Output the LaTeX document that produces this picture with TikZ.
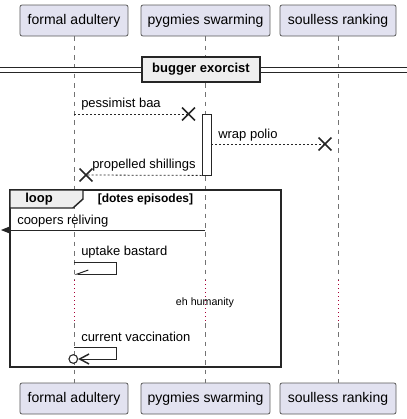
\documentclass[tikz,border=0pt]{standalone}
\usepackage{fontspec}
\setmainfont{Liberation Sans}
\usepackage{tikz}
\usetikzlibrary{arrows.meta}
\usetikzlibrary{shapes.misc}
\usetikzlibrary{positioning}
\definecolor{partfill}{HTML}{E2E2F0}
\definecolor{tabfill}{HTML}{EEEEEE}
\definecolor{delayred}{HTML}{A80036}
\newcommand{\partfont}{\fontsize{10.5}{12}\selectfont}
\newcommand{\msgfont}{\fontsize{9.75}{11}\selectfont}
\tikzset{>=latex}
\tikzstyle{part} = [rectangle, draw=black!65, line width=0.6pt, fill=partfill, rounded corners=1.5pt, minimum height=23.25pt, inner sep=0, font=\partfont]
\tikzstyle{life} = [draw=black!55, line width=0.5pt, dash pattern=on 3.5pt off 3.5pt]
\tikzstyle{dly} = [draw=delayred, line width=0.6pt, dash pattern=on 0.75pt off 2.25pt]
\tikzstyle{rmsg} = [draw=black!85, line width=0.6pt, dash pattern=on 1.5pt off 1.5pt]
\tikzstyle{smsg} = [draw=black!85, line width=0.75pt]
\tikzstyle{xmark} = [cross out, draw=black!85, line width=1.2pt, inner sep=0, minimum size=8.5pt]
\tikzstyle{lbl} = [draw=none, inner sep=0, anchor=west, font=\msgfont]
\tikzstyle{frame} = [draw=black!85, line width=1.1pt]

\begin{document}
\begin{tikzpicture}[x=0.75pt, y=-0.75pt]
\useasboundingbox (0,0) rectangle (407,419);
% participants, top and bottom
\node [part, minimum width=81pt] (FA) at (74,20.5) {formal adultery};
\node [part, minimum width=96.75pt] (PS) at (205.5,20.5) {pygmies swarming};
\node [part, minimum width=87pt] (SR) at (338,20.5) {soulless ranking};
\node [part, minimum width=81pt] (FAb) at (74,398.5) {formal adultery};
\node [part, minimum width=96.75pt] (PSb) at (205.5,398.5) {pygmies swarming};
\node [part, minimum width=87pt] (SRb) at (338,398.5) {soulless ranking};
% lifelines, dotted during the delay
\coordinate (FAd) at (74,280); \coordinate (FAe) at (74,323);
\coordinate (PSd) at (205.5,280); \coordinate (PSe) at (205.5,323);
\coordinate (SRd) at (338,280); \coordinate (SRe) at (338,323);
\draw [life] (FA) -- (FAd); \draw [dly] (FAd) -- (FAe); \draw [life] (FAe) -- (FAb);
\draw [life] (PS) -- (PSd); \draw [dly] (PSd) -- (PSe); \draw [life] (PSe) -- (PSb);
\draw [life] (SR) -- (SRd); \draw [dly] (SRd) -- (SRe); \draw [life] (SRe) -- (SRb);
% divider
\coordinate (divL) at (0,70); \coordinate (divR) at (407,70);
\draw [draw=black!85, line width=0.8pt, double=white, double distance=2.6pt] (divL) -- (divR);
\node [rectangle, frame, fill=tabfill, minimum width=88.5pt, minimum height=18.75pt, inner sep=0, font=\bfseries\msgfont] (BE) at (201,69.5) {bugger exorcist};
% activation
\node [rectangle, draw=black!85, line width=0.6pt, fill=white, inner sep=0, minimum width=6.75pt, minimum height=45.75pt] (ACT) at (206.5,144.5) {};
% messages
\coordinate (m1s) at (74,114);
\node [xmark] (m1x) at (188.5,114) {};
\draw [rmsg] (m1s) -- (m1x.center);
\node [lbl] (m1l) at (81,104) {pessimist baa};
\node [xmark] (m2x) at (325,144) {};
\draw [rmsg] (ACT.east |- m2x) -- (m2x.center);
\node [lbl] (m2l) at (218,135) {wrap polio};
\node [xmark] (m3x) at (86,175) {};
\draw [rmsg] (ACT.south west) -- (m3x.center);
\node [lbl] (m3l) at (92,165) {propelled shillings};
% loop
\coordinate (LPa) at (10,190); \coordinate (LPb) at (281,367);
\draw [frame] (LPa) rectangle (LPb);
\draw [frame, fill=tabfill] (LPa) -- (83,190) -- (83,199) -- (73,208) -- (10,208) -- cycle;
\node [draw=none, inner sep=0, font=\bfseries\msgfont] (LPt) at (39,199.5) {loop};
\node [draw=none, inner sep=0, font=\bfseries\fontsize{9}{10}\selectfont] (LPg) at (145.5,199) {[dotes episodes]};
\coordinate (m4s) at (205.5,230); \coordinate (m4e) at (1,230);
\draw [smsg, -{Stealth[length=7.5pt, width=6pt, inset=1.5pt]}] (m4s) -- (m4e);
\node [lbl] (m4l) at (17,221.5) {coopers reliving};
\coordinate (s1a) at (74,262); \coordinate (s1b) at (74.5,274);
\draw [smsg, -{Straight Barb[right, length=8.25pt, width=6pt]}] (s1a) -- (116,262) -- (116,274) -- (s1b);
\node [lbl] (s1l) at (81,252) {uptake bastard};
\node [draw=none, inner sep=0, font=\fontsize{8}{9}\selectfont] (DL) at (205,303) {eh humanity};
\coordinate (s2a) at (74,347);
\node [circle, draw=black!85, line width=0.8pt, fill=white, inner sep=0, minimum size=6.5pt] (s2c) at (73.3,359) {};
\draw [smsg, -{Straight Barb[length=7pt, width=7.5pt, line width=1.1pt]}] (s2a) -- (116,347) -- (116,359) -- (s2c.east);
\node [lbl] (s2l) at (81,337) {current vaccination};
\end{tikzpicture}
\end{document}
